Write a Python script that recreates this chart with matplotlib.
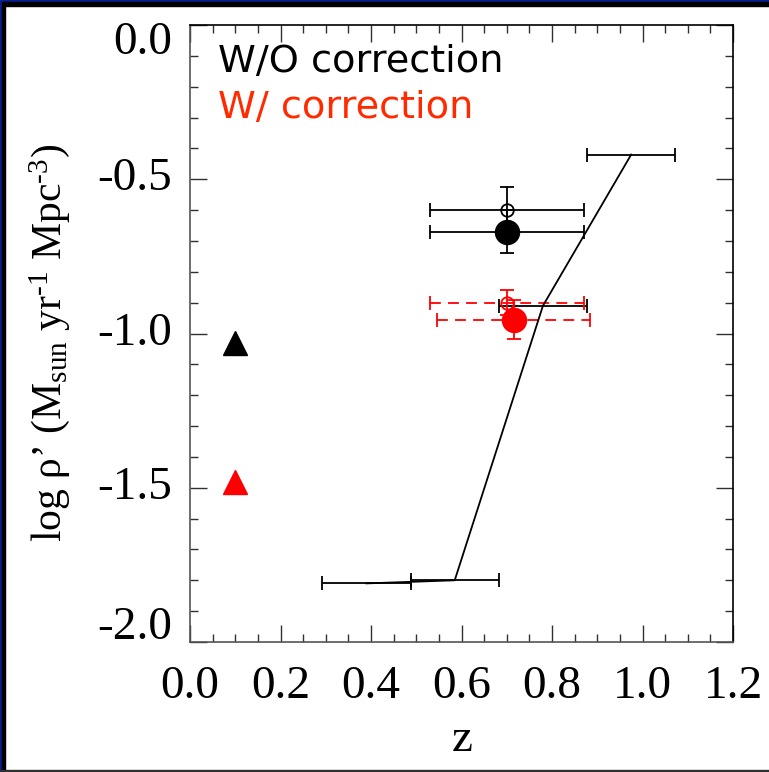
import matplotlib
matplotlib.use("Agg")
import matplotlib.pyplot as plt
from matplotlib.patches import Rectangle
from matplotlib.ticker import MultipleLocator, NullFormatter

plt.rcParams['mathtext.fontset'] = 'custom'
plt.rcParams['mathtext.rm'] = 'Liberation Serif'
plt.rcParams['mathtext.it'] = 'Liberation Serif:italic'

# binned relation (solid line with horizontal bin widths)
bin_z = [0.39, 0.585, 0.78, 0.975]
bin_rho = [-1.81, -1.80, -0.91, -0.42]
bin_halfwidth = 0.0975

# single-sample points, without / with correction: z, rho, xerr, yerr
raw_open = (0.70, -0.60, 0.17, 0.075)
raw_filled = (0.70, -0.67, 0.17, 0.07)
cor_open = (0.70, -0.90, 0.17, 0.04)
cor_filled = (0.715, -0.955, 0.17, 0.062)

# local values
tri_z = 0.1
tri_raw = -1.03
tri_cor = -1.48

xticks = [0.0, 0.2, 0.4, 0.6, 0.8, 1.0, 1.2]
yticks = [0.0, -0.5, -1.0, -1.5, -2.0]

W, H = 769, 772
fig = plt.figure(figsize=(W / 100, H / 100), dpi=100)
fig.patch.set_facecolor('white')

# dark frame around the panel
navy = '#0b1f8c'
fig.patches.append(Rectangle((0, 1 - 2 / H), 1, 2 / H, transform=fig.transFigure, color=navy, zorder=-5))
fig.patches.append(Rectangle((0, 1 - 6 / H), 1, 4 / H, transform=fig.transFigure, color='black', zorder=-5))
fig.patches.append(Rectangle((0, 0), 2 / W, 1, transform=fig.transFigure, color=navy, zorder=-5))
fig.patches.append(Rectangle((2 / W, 0), 3 / W, 1 - 2 / H, transform=fig.transFigure, color='black', zorder=-5))
fig.patches.append(Rectangle((0, 0), 1, 2 / H, transform=fig.transFigure, color='#303030', zorder=-5))

ax = fig.add_axes([190 / W, 1 - 642 / H, (733 - 190) / W, (642 - 25) / H])

lw = 1.3
ax.errorbar(bin_z, bin_rho, xerr=bin_halfwidth, color='black', lw=lw,
            elinewidth=lw, capsize=5, capthick=lw)

def point(p, color, filled, ms, dashed=False):
    z, r, xe, ye = p
    mk = dict(marker='o', ms=ms, mec=color, mew=lw,
              mfc=color if filled else 'none')
    eb = ax.errorbar([z], [r], xerr=[xe], yerr=[ye], color=color, lw=0,
                     elinewidth=lw, capsize=5, capthick=lw, **mk)
    if dashed:
        eb[2][0].set_linestyle((0, (6, 4)))
    return eb

point(raw_open, 'black', False, 9)
point(raw_filled, 'black', True, 17)
point(cor_open, 'red', False, 9, dashed=True)
point(cor_filled, 'red', True, 17, dashed=True)

ax.plot([tri_z], [tri_raw], marker='^', ms=17, color='black', ls='none')
ax.plot([tri_z], [tri_cor], marker='^', ms=17, color='red', ls='none')

ax.set_xlim(0.0, 1.2)
ax.set_ylim(-2.0, 0.0)
ax.set_xticks(xticks)
ax.set_xticklabels(['%.1f' % v for v in xticks], fontfamily='Liberation Serif', fontsize=34)
ax.xaxis.set_minor_locator(MultipleLocator(0.05))
ax.set_yticks(yticks)
ax.yaxis.set_major_formatter(NullFormatter())
ax.yaxis.set_minor_locator(MultipleLocator(0.1))
ax.tick_params(which='both', direction='in', top=True, right=True, color='#303030')
ax.tick_params(which='major', length=12, width=1)
ax.tick_params(which='minor', length=6, width=1)
ax.tick_params(axis='x', which='major', pad=17)

# y labels drawn by hand, the end ones nudged inside the axis range
shift = {0.0: -13, -2.0: 10}
for v in yticks:
    ax.annotate('%.1f' % v, xy=(0, v), xycoords=('axes fraction', 'data'),
                xytext=(-13, shift.get(v, 0)), textcoords='offset points',
                ha='right', va='center', fontsize=34, family='Liberation Serif')

for side in ['left', 'bottom']:
    ax.spines[side].set_color('#555555')
for side in ['top', 'right']:
    ax.spines[side].set_color('black')
for s in ax.spines.values():
    s.set_linewidth(1.2)

fig.text(218 / W, 1 - 62 / H, 'W/O correction', fontsize=27.5, color='black',
         va='center', ha='left', family='DejaVu Sans')
fig.text(218 / W, 1 - 108 / H, 'W/ correction', fontsize=27.5, color='#ff2a00',
         va='center', ha='left', family='DejaVu Sans')

fig.text(462 / W, 1 - 740 / H, 'z', fontsize=34, family='Liberation Serif',
         ha='center', va='center')
fig.text(50 / W, 1 - 343 / H,
         'log ρ’ (M$_{\\rm sun}$ yr$^{\\rm ‐1}$ Mpc$^{\\rm ‐3}$)',
         fontsize=30, family='Liberation Serif', rotation=90,
         ha='center', va='center')

fig.savefig('out.png', dpi=100)
